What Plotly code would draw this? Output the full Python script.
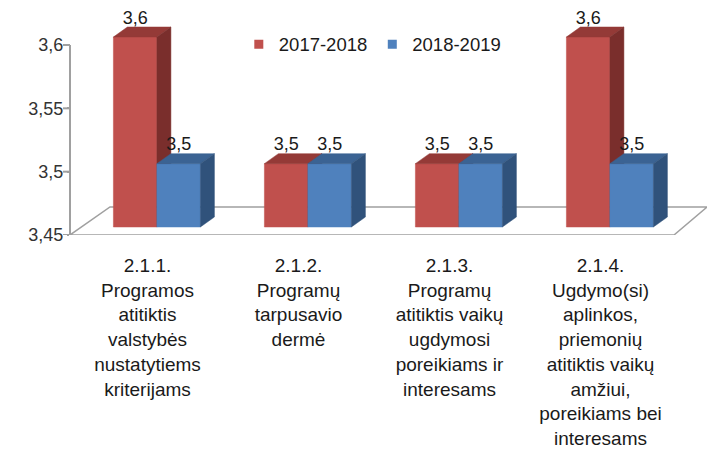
import plotly.graph_objects as go

# ---------------- data ----------------
categories = [
    "2.1.1.<br>Programos<br>atitiktis<br>valstybės<br>nustatytiems<br>kriterijams",
    "2.1.2.<br>Programų<br>tarpusavio<br>dermė",
    "2.1.3.<br>Programų<br>atitiktis vaikų<br>ugdymosi<br>poreikiams ir<br>interesams",
    "2.1.4.<br>Ugdymo(si)<br>aplinkos,<br>priemonių<br>atitiktis vaikų<br>amžiui,<br>poreikiams bei<br>interesams",
]
series_names = ["2017-2018", "2018-2019"]
values_2017_2018 = [3.6, 3.5, 3.5, 3.6]
values_2018_2019 = [3.5, 3.5, 3.5, 3.5]
y_ticks = [3.45, 3.5, 3.55, 3.6]
y_tick_labels = ["3,45", "3,5", "3,55", "3,6"]

# ---------------- style / geometry ----------------
W, H = 707, 454
ML, MR, MT, MB = 70, 0, 0, 219
plot_w = W - ML - MR
plot_h = H - MT - MB
UX = 151.0                      # pixels per category unit
YMIN, YMAX_TICK = y_ticks[0], y_ticks[-1]
UY = 190.0 / (YMAX_TICK - YMIN)  # pixels per value unit
x_left = -0.5 - 2 / UX
x_right = x_left + plot_w / UX
y_top = YMIN + plot_h / UY

def px_x(p):
    return p / UX

def px_y(p):
    return p / UY

FONT = "Liberation Sans"
front_cols = ["#C0504D", "#4F81BD"]
top_cols = ["#943A37", "#3B6393"]
side_cols = ["#7A2E2C", "#30527B"]
GRID_COL = "#A0A0A0"
TICK_LEN = 7

bar_w = px_x(43.5)
shift_x = px_x(9.4)
shift_y = px_y(8)
ddx = px_x(14)
ddy = px_y(10)

fig = go.Figure()

# floor
fx = [x_left, 3.5 - px_x(2), x_right, x_left + px_x(40), x_left]
fy = [YMIN, YMIN, YMIN + px_y(28), YMIN + px_y(28), YMIN]
fig.add_trace(go.Scatter(x=fx, y=fy, mode="lines", fill="toself",
                         fillcolor="white", line=dict(color=GRID_COL, width=1.5),
                         hoverinfo="skip", showlegend=False))

series_vals = [values_2017_2018, values_2018_2019]
label_x, label_y, label_t = [], [], []
for s, vals in enumerate(series_vals):
    front_x, front_y, top_x, top_y, side_x, side_y = [], [], [], [], [], []
    for i, v in enumerate(vals):
        c = i + shift_x
        xl = c - bar_w + s * bar_w
        xr = xl + bar_w
        b = YMIN + shift_y
        t = v + shift_y
        front_x += [xl, xr, xr, xl, xl, None]
        front_y += [b, b, t, t, b, None]
        top_x += [xl, xr, xr + ddx, xl + ddx, xl, None]
        top_y += [t, t, t + ddy, t + ddy, t, None]
        side_x += [xr, xr + ddx, xr + ddx, xr, xr, None]
        side_y += [b, b + ddy, t + ddy, t, b, None]
        label_x.append((xl + xr) / 2)
        label_y.append(t + ddy - px_y(1))
        label_t.append(("%.1f" % v).replace(".", ","))
    for xs, ys, col in [(front_x, front_y, front_cols[s]),
                        (top_x, top_y, top_cols[s]),
                        (side_x, side_y, side_cols[s])]:
        fig.add_trace(go.Scatter(x=xs, y=ys, mode="lines", fill="toself",
                                 fillcolor=col, line=dict(color=col, width=0.5),
                                 hoverinfo="skip", showlegend=False))

# data labels
fig.add_trace(go.Scatter(x=label_x, y=label_y, mode="text", text=label_t,
                         textposition="top center", cliponaxis=False,
                         textfont=dict(family=FONT, size=18, color="#1a1a1a"),
                         hoverinfo="skip", showlegend=False))

# legend entries
for s, name in enumerate(series_names):
    fig.add_trace(go.Scatter(x=[None], y=[None], mode="markers", name=name,
                             marker=dict(symbol="square", size=9, color=front_cols[s])))

# y axis line and tick marks
fig.add_shape(type="line", xref="paper", yref="y", x0=0, x1=0,
              y0=YMIN, y1=YMAX_TICK, line=dict(color=GRID_COL, width=2))
for tv in y_ticks:
    fig.add_shape(type="line", xref="paper", yref="y", x0=-TICK_LEN / plot_w, x1=0,
                  y0=tv, y1=tv, line=dict(color=GRID_COL, width=2))

fig.update_layout(
    width=W, height=H,
    margin=dict(l=ML, r=MR, t=MT, b=MB, pad=0),
    paper_bgcolor="white", plot_bgcolor="white",
    font=dict(family=FONT, size=18, color="#1a1a1a"),
    showlegend=True,
    legend=dict(orientation="h", x=0.265, y=0.81, xanchor="left", yanchor="middle",
                font=dict(family=FONT, size=18.5, color="#1a1a1a"),
                bgcolor="rgba(0,0,0,0)", itemwidth=30, tracegroupgap=0),
    xaxis=dict(range=[x_left, x_right], showgrid=False, zeroline=False,
               showline=False, tickmode="array",
               tickvals=list(range(len(categories))), ticktext=categories,
               ticks="", tickfont=dict(family=FONT, size=19, color="#1a1a1a"),
               ticklabelstandoff=17, fixedrange=True),
    yaxis=dict(range=[YMIN, y_top], showgrid=False, zeroline=False,
               showline=False, tickmode="array", tickvals=y_ticks,
               ticktext=y_tick_labels, ticks="outside", ticklen=2, tickwidth=2,
               tickcolor=GRID_COL, tickfont=dict(family=FONT, size=18, color="#333333"),
               ticklabelstandoff=0, fixedrange=True),
)

fig.write_html("out.html", config={"displayModeBar": False},
               post_script="document.body.style.margin='0';document.body.style.padding='0';")
